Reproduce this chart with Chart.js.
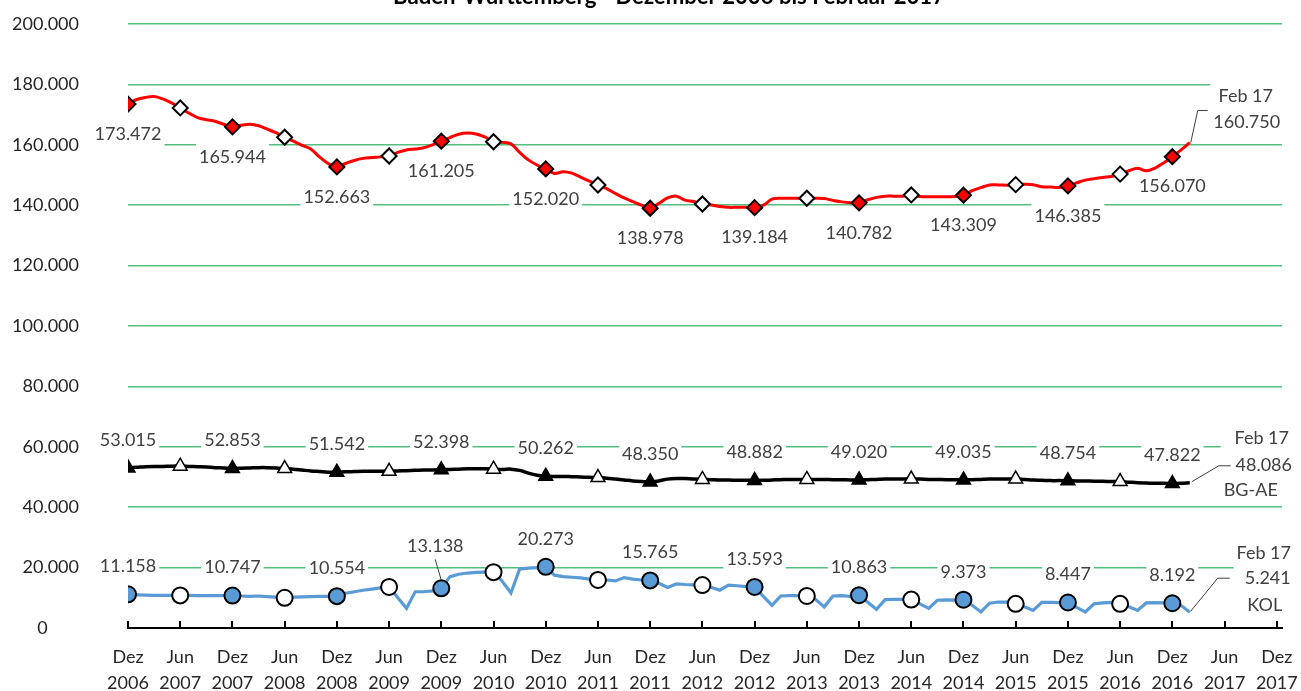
<!DOCTYPE html>
<html><head><meta charset="utf-8">
<script src="https://cdn.jsdelivr.net/npm/chart.js@4"></script>
<style>html,body{margin:0;padding:0;background:#fff;overflow:hidden}#wrap{width:1301px;height:691px;position:relative}</style>
</head><body><div id="wrap"><canvas id="c" width="1301" height="691"></canvas></div>
<script>
const chartTitle = "Baden-Württemberg - Dezember 2006 bis Februar 2017";
const xTickMonths = ["Dez","Jun","Dez","Jun","Dez","Jun","Dez","Jun","Dez","Jun","Dez","Jun","Dez","Jun","Dez","Jun","Dez","Jun","Dez","Jun","Dez","Jun","Dez"];
const xTickYears  = ["2006","2007","2007","2008","2008","2009","2009","2010","2010","2011","2011","2012","2012","2013","2013","2014","2014","2015","2015","2016","2016","2017","2017"];
const lastLabel = "Feb 17";
const seriesNames = ["Gesamt","BG-AE","KOL"];
// monthly values, Dez 2006 (index 0) .. Feb 2017 (index 122)
const gesamt = [
173472,175000,175700,176000,175200,173900,172200,170500,169000,168300,167800,166800,
165944,166500,166800,166300,165200,164000,162500,161200,159800,158600,156000,153800,
152663,153800,154800,155500,155800,156000,156300,157500,158300,158600,159000,160000,
161205,162400,163500,163900,163600,162600,161000,160800,160300,157500,155000,153300,
152020,150500,151100,150600,149300,148000,146700,145500,143900,142400,141200,140000,
138978,140600,142400,143000,141700,141200,140400,140100,139600,139300,139300,139300,
139184,140000,142000,142300,142300,142300,142300,142300,142200,141600,141100,140800,
140782,141800,142600,143000,143000,143000,143400,142900,142800,142800,142800,142900,
143309,144800,145800,146700,146700,146600,146800,146900,146800,146100,146000,145900,
146385,147400,148300,148800,149200,149500,150300,151400,152200,151400,152300,154000,
156070,158300,160750];
const bgae = [
53015,53200,53400,53500,53500,53600,53600,53500,53400,53300,53100,53000,
52853,52900,53000,53100,53100,53000,52800,52600,52300,52000,51800,51600,
51542,51700,51800,51900,51900,51900,51900,52000,52100,52200,52300,52300,
52398,52500,52600,52700,52700,52700,52600,52500,52600,52200,51300,50600,
50262,50200,50200,50100,50000,49900,49800,49600,49300,49000,48700,48500,
48350,48700,49300,49500,49500,49300,49200,49100,49000,49000,48900,48900,
48882,48900,49000,49100,49200,49200,49200,49200,49200,49100,49100,49000,
49020,49100,49200,49300,49300,49300,49300,49300,49200,49200,49100,49100,
49035,49100,49200,49300,49300,49300,49300,49200,49000,48900,48800,48800,
48754,48700,48700,48600,48600,48500,48500,48300,48100,48000,47900,47900,
47822,47900,48086];
const kol = [
11158,11000,10900,10800,10800,10800,10800,10800,10700,10700,10700,10700,
10747,10600,10500,10600,10400,10200,10000,10200,10300,10400,10500,10500,
10554,11500,12000,12500,12900,13300,13600,10000,6500,12000,12000,12300,
13138,17000,17800,18200,18400,18500,18500,15500,11600,19500,19800,20000,
20273,17500,17000,16800,16600,16200,15900,15900,15600,16700,16200,15900,
15765,14800,13400,14600,14400,14300,14200,13500,12500,14200,14000,13700,
13593,10500,7500,10600,10700,10700,10600,9500,7000,10600,10700,10500,
10863,8500,6200,9400,9500,9500,9400,8000,6500,9200,9300,9200,
9373,7500,5300,8200,8600,8600,8000,7000,5800,8500,8500,8400,
8447,6800,5300,8000,8300,8500,8000,7000,5800,8300,8400,8300,
8192,7500,5241];

const FONT = 'Lato, "Liberation Sans", sans-serif';
const GREEN = '#55BF80';
const TXT = '#404040';
const fmt = v => Math.round(v).toString().replace(/\B(?=(\d{3})+(?!\d))/g, '.');
const pts = arr => arr.map((v,i)=>({x:i,y:v}));
const isDec = i => i % 12 === 0;
const hasMarker = i => i % 6 === 0;

function boxText(ctx, lines){
  let l=Infinity,r=-Infinity,t=Infinity,b=-Infinity;
  lines.forEach(o=>{const w=ctx.measureText(o.t).width; l=Math.min(l,o.x-w/2-3); r=Math.max(r,o.x+w/2+3); t=Math.min(t,o.y-13); b=Math.max(b,o.y+13);});
  ctx.fillStyle='#fff'; ctx.fillRect(l,t,r-l,b-t);
  ctx.fillStyle=TXT;
  lines.forEach(o=>ctx.fillText(o.t,o.x,o.y));
}
function leader(ctx, p){
  ctx.strokeStyle='#404040'; ctx.lineWidth=1; ctx.beginPath();
  ctx.moveTo(p[0][0],p[0][1]); for(let k=1;k<p.length;k++) ctx.lineTo(p[k][0],p[k][1]); ctx.stroke();
}

const labelPlugin = {
  id:'labels',
  afterDatasetsDraw(chart){
    const ctx = chart.ctx;
    ctx.save();
    ctx.font = '18px ' + FONT;
    ctx.textAlign='center'; ctx.textBaseline='middle';
    const dys = [30,-28,-28];
    [0,1,2].forEach(di=>{
      const meta = chart.getDatasetMeta(di);
      const data = chart.data.datasets[di].data;
      data.forEach((d,i)=>{
        if(!isDec(i)) return;
        const el = meta.data[i];
        let x = el.x, y = el.y + dys[di];
        if(di===2 && i===36){ x -= 6; y = el.y - 42; leader(ctx, [[x-1,y+10],[el.x,el.y-8]]); }
        boxText(ctx, [{t:fmt(d.y), x, y}]);
      });
      const n = data.length-1, e = meta.data[n], ex=e.x, ey=e.y;
      if(di===0){
        boxText(ctx,[{t:lastLabel,x:ex+56,y:ey-46},{t:fmt(data[n].y),x:ex+57,y:ey-20}]);
        leader(ctx,[[ex+1,ey],[ex+8,ey-32],[ex+18,ey-32]]);
      } else if(di===1){
        boxText(ctx,[{t:lastLabel,x:ex+72,y:ey-45},{t:fmt(data[n].y),x:ex+74,y:ey-18},{t:seriesNames[1],x:ex+61,y:ey+7}]);
        leader(ctx,[[ex+2,ey-1],[ex+29,ey-17],[ex+41,ey-17]]);
      } else {
        boxText(ctx,[{t:lastLabel,x:ex+74,y:ey-59},{t:fmt(data[n].y),x:ex+78,y:ey-34},{t:seriesNames[2],x:ex+75,y:ey-7}]);
        leader(ctx,[[ex+1,ey-1],[ex+28,ey-34],[ex+40,ey-34]]);
      }
    });
    ctx.restore();
  },
  afterDraw(chart){
    const ctx = chart.ctx, xs = chart.scales.x, ca = chart.chartArea;
    ctx.save();
    ctx.strokeStyle='#000'; ctx.lineWidth=2;
    xs.ticks.forEach(t=>{const px=Math.round(xs.getPixelForValue(t.value)); ctx.beginPath(); ctx.moveTo(px,ca.bottom); ctx.lineTo(px,ca.bottom-7); ctx.stroke();});
    ctx.fillStyle='#000'; ctx.textAlign='center'; ctx.textBaseline='alphabetic';
    let fs=19; ctx.font='bold '+fs+'px '+FONT;
    fs = fs*552/ctx.measureText(chartTitle).width; ctx.font='bold '+fs.toFixed(2)+'px '+FONT;
    ctx.fillText(chartTitle, 669, 4);
    ctx.restore();
  }
};

new Chart(document.getElementById('c'), {
  type:'line',
  data:{ datasets:[
    { label:seriesNames[0], data:pts(gesamt), borderColor:'#FF0000', borderWidth:3, tension:0.35,
      pointStyle:'rectRot', pointRadius:c=>hasMarker(c.dataIndex)?7.5:0,
      pointBackgroundColor:c=>isDec(c.dataIndex)?'#FF0000':'#FFFFFF', pointBorderColor:'#000', pointBorderWidth:2 },
    { label:seriesNames[1], data:pts(bgae), borderColor:'#000000', borderWidth:3.5, tension:0.35,
      pointStyle:'triangle', pointRadius:c=>hasMarker(c.dataIndex)?8:0,
      pointBackgroundColor:c=>isDec(c.dataIndex)?'#000000':'#FFFFFF', pointBorderColor:'#000', pointBorderWidth:1.5 },
    { label:seriesNames[2], data:pts(kol), borderColor:'#5B9BD5', borderWidth:3.2, tension:0,
      pointStyle:'circle', pointRadius:c=>hasMarker(c.dataIndex)?8:0,
      pointBackgroundColor:c=>isDec(c.dataIndex)?'#5B9BD5':'#FFFFFF', pointBorderColor:'#000', pointBorderWidth:2 }
  ]},
  options:{
    responsive:false, animation:false, events:[],
    layout:{padding:{top:24,right:19,bottom:0,left:0}},
    plugins:{legend:{display:false},tooltip:{enabled:false},title:{display:false}},
    scales:{
      x:{ type:'linear', min:0, max:132.6,
        afterBuildTicks: ax=>{ ax.ticks = xTickMonths.map((m,k)=>({value:k*6})); },
        afterFit: ax=>{ ax.height = 63; ax.paddingLeft = 0; ax.paddingRight = 0; },
        ticks:{ callback:(v,idx)=>[xTickMonths[idx], xTickYears[idx]], autoSkip:false, maxRotation:0, minRotation:0, padding:16,
          color:'#262626', font:{family:FONT, size:18, lineHeight:'26px'} },
        grid:{display:false, drawTicks:false},
        border:{display:true, color:'#000', width:2}
      },
      y:{ min:0, max:200000,
        afterFit: ax=>{ ax.width = 128; ax.paddingTop = 0; ax.paddingBottom = 0; },
        ticks:{ stepSize:20000, callback:v=> v===0 ? '0\u2007\u2007\u2007' : fmt(v), padding:49, color:'#262626', font:{family:FONT, size:18} },
        grid:{ color:c=>c.tick && c.tick.value===0 ? 'rgba(0,0,0,0)' : GREEN, lineWidth:1.5, drawTicks:false },
        border:{display:false}
      }
    }
  },
  plugins:[labelPlugin]
});
</script></body></html>
